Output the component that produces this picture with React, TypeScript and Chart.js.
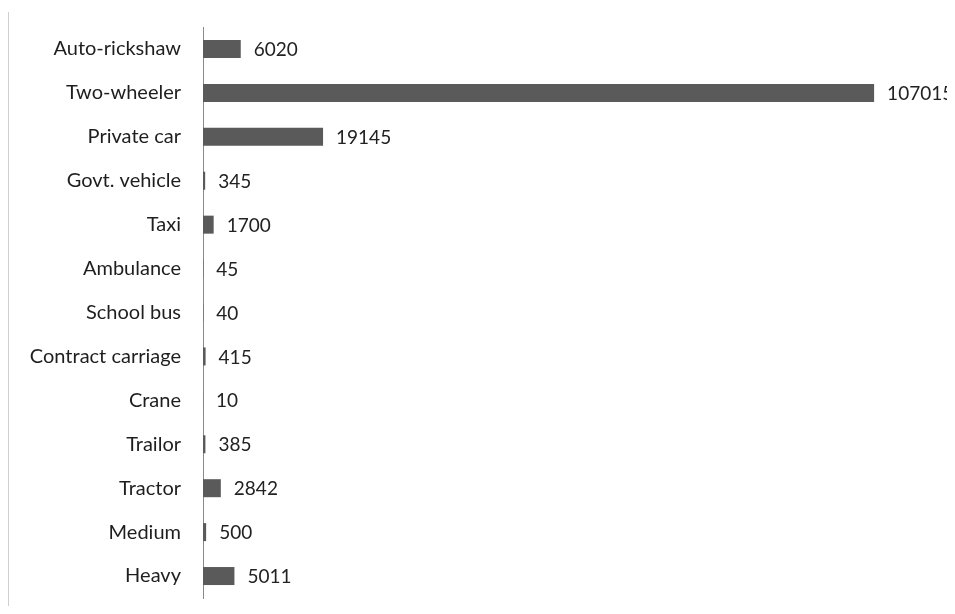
import React, { useEffect, useRef } from "react";
import { Chart, registerables } from "chart.js";

Chart.register(...registerables);

const categories = [
  "Auto-rickshaw",
  "Two-wheeler",
  "Private car",
  "Govt. vehicle",
  "Taxi",
  "Ambulance",
  "School bus",
  "Contract carriage",
  "Crane",
  "Trailor",
  "Tractor",
  "Medium",
  "Heavy",
];

const vehicleCounts = [6020, 107015, 19145, 345, 1700, 45, 40, 415, 10, 385, 2842, 500, 5011];

const FONT = "Lato, 'Noto Sans', sans-serif";

const valueLabels = {
  id: "valueLabels",
  afterDatasetsDraw(chart: any) {
    const ctx = chart.ctx;
    const meta = chart.getDatasetMeta(0);
    ctx.save();
    ctx.font = `19px ${FONT}`;
    ctx.fillStyle = "#222222";
    ctx.textAlign = "left";
    ctx.textBaseline = "middle";
    meta.data.forEach((bar: any, i: number) => {
      ctx.fillText(String(vehicleCounts[i]), bar.x + 13, bar.y + 1);
    });
    ctx.restore();
  },
};

const frameLine = {
  id: "frameLine",
  beforeDraw(chart: any) {
    const ctx = chart.ctx;
    ctx.save();
    ctx.strokeStyle = "#cfcfcf";
    ctx.lineWidth = 1;
    ctx.beginPath();
    ctx.moveTo(0.5, 4);
    ctx.lineTo(0.5, chart.height);
    ctx.stroke();
    ctx.restore();
  },
};

export default function App() {
  const ref = useRef<HTMLCanvasElement>(null);

  useEffect(() => {
    if (!ref.current) return;
    const chart = new Chart(ref.current, {
      type: "bar",
      data: {
        labels: categories,
        datasets: [
          {
            data: vehicleCounts,
            backgroundColor: "#5a5a5a",
            borderWidth: 0,
            barPercentage: 0.82,
            categoryPercentage: 0.5,
          },
        ],
      },
      options: {
        indexAxis: "y",
        animation: false,
        responsive: false,
        layout: { padding: { top: 19, bottom: 8, right: 4, left: 0 } },
        plugins: {
          legend: { display: false },
          tooltip: { enabled: false },
        },
        scales: {
          x: {
            display: false,
            min: 0,
            max: 118000,
          },
          y: {
            grid: { display: false, drawTicks: false },
            border: { display: true, color: "#8a8a8a", width: 1 },
            ticks: {
              color: "#1e1e1e",
              font: { family: FONT, size: 20 },
              padding: 22,
            },
            afterFit(scale: any) {
              scale.width = 195;
              scale.paddingTop = 0;
              scale.paddingBottom = 0;
            },
          },
        },
      },
      plugins: [valueLabels, frameLine],
    });
    return () => chart.destroy();
  }, []);

  return (
    <div style={{ width: 939, height: 598 }}>
      <canvas ref={ref} width={939} height={598} style={{ display: "block" }} />
    </div>
  );
}
